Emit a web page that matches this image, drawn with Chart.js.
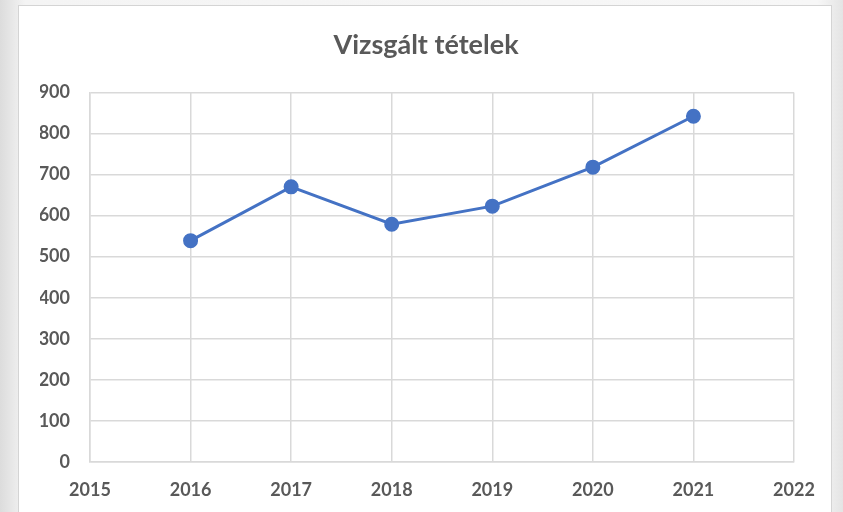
<!DOCTYPE html>
<html>
<head>
<meta charset="utf-8">
<script src="https://cdn.jsdelivr.net/npm/chart.js@4/dist/chart.umd.min.js"></script>
<style>
  html, body { margin: 0; padding: 0; }
  body {
    width: 843px; height: 512px; position: relative; overflow: hidden;
    background: linear-gradient(90deg, #dcdcdc 0%, #f4f4f4 3%, #f7f7f7 97%, #e4e4e4 100%);
  }
  #panel {
    position: absolute; left: 18px; top: 5px; width: 814px; height: 520px;
    background: #fff; border: 1px solid #d4d4d4; box-sizing: border-box;
  }
  #wrap { position: absolute; left: 0; top: 0; width: 843px; height: 512px; }
</style>
</head>
<body>
<div id="panel"></div>
<div id="wrap"><canvas id="chart"></canvas></div>
<script>
// Data
const years = [2016, 2017, 2018, 2019, 2020, 2021];
const values = [539, 670, 579, 623, 718, 842];
const xMin = 2015, xMax = 2022;
const yTicks = [0, 100, 200, 300, 400, 500, 600, 700, 800, 900];

const grey = '#d9d9d9';
const textColor = '#595959';

// Centre the title on the white panel rather than the padded chart box
const titleShift = {
  id: 'titleShift',
  afterLayout(chart) {
    if (chart.titleBlock) {
      chart.titleBlock.left += 9;
      chart.titleBlock.right += 9;
    }
  }
};

const ctx = document.getElementById('chart').getContext('2d');
new Chart(ctx, {
  type: 'line',
  data: {
    datasets: [{
      label: 'Vizsgált tételek',
      data: years.map((y, i) => ({ x: y, y: values[i] })),
      borderColor: '#4472C4',
      backgroundColor: '#4472C4',
      borderWidth: 3,
      pointRadius: 6,
      pointHoverRadius: 6,
      tension: 0
    }]
  },
  options: {
    responsive: true,
    maintainAspectRatio: false,
    animation: false,
    layout: { padding: { left: 40, right: 49, bottom: 0, top: 0 } },
    plugins: {
      legend: { display: false },
      tooltip: { enabled: false },
      title: {
        display: true,
        text: 'Vizsgált tételek',
        color: textColor,
        font: { family: 'Lato', size: 27, weight: 'bold' },
        padding: { top: 29, bottom: 31 }
      }
    },
    scales: {
      x: {
        type: 'linear',
        min: xMin,
        max: xMax,
        ticks: {
          stepSize: 1,
          color: textColor,
          font: { family: 'Lato', size: 18, weight: 'bold' },
          padding: 17,
          callback: v => String(v)
        },
        grid: { color: grey, lineWidth: 1.5, drawTicks: false },
        border: { color: grey, width: 1.5 },
        afterFit: s => { s.height = 50; }
      },
      y: {
        min: 0,
        max: 900,
        afterBuildTicks: s => { s.ticks = yTicks.map(v => ({ value: v })); },
        ticks: {
          color: textColor,
          font: { family: 'Lato', size: 18, weight: 'bold' },
          padding: 20
        },
        grid: { color: grey, lineWidth: 1.5, drawTicks: false },
        border: { color: grey, width: 1.5 },
        afterFit: s => { s.width = 50; }
      }
    }
  },
  plugins: [titleShift]
});
</script>
</body>
</html>
